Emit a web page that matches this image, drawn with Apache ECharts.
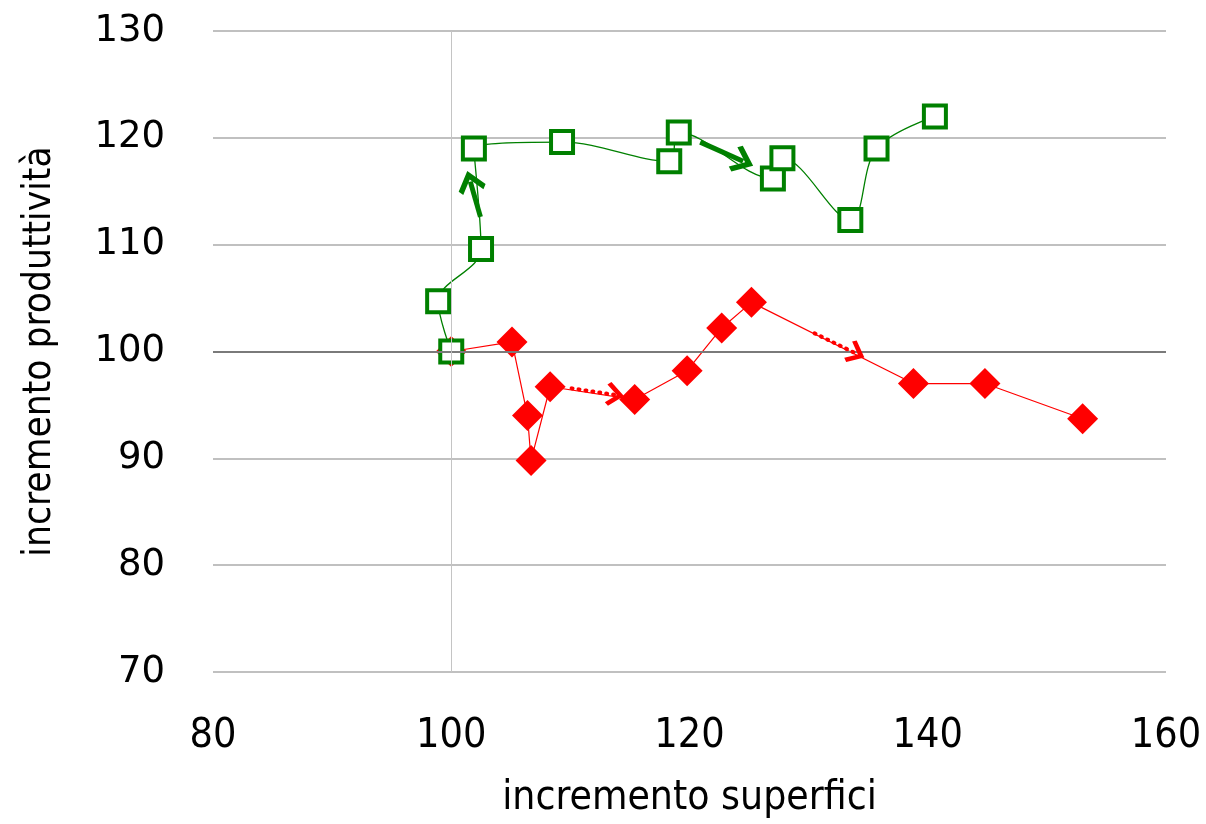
<!DOCTYPE html>
<html>
<head>
<meta charset="utf-8">
<script src="https://cdn.jsdelivr.net/npm/echarts@6/dist/echarts.min.js"></script>
<style>
  html, body { margin: 0; padding: 0; background: #fff; }
  #chart { width: 1206px; height: 824px; }
</style>
</head>
<body>
<div id="chart"></div>
<script>
// serie rossa (rombi): incremento superfici / incremento produttività
const redX = [100, 105.1, 106.4, 106.7, 108.3, 115.4, 119.8, 122.7, 125.2, 138.8, 144.8, 153.0];
const redY = [100, 100.9, 94.0, 89.8, 96.7, 95.5, 98.2, 102.2, 104.6, 97.0, 97.0, 93.7];

// serie verde (quadrati vuoti)
const greenX = [100, 98.9, 102.5, 101.9, 109.3, 118.3, 119.1, 127.0, 127.8, 133.5, 135.7, 140.6];
const greenY = [100, 104.7, 109.6, 119.0, 119.6, 117.8, 120.5, 116.2, 118.1, 112.3, 119.0, 122.0];

// frecce di direzione (coordinate nei dati)
const greenArrows = [
  [[102.45, 112.6], [101.6, 115.9]],
  [[120.9, 119.6], [124.5, 117.8]]
];
const redArrows = [
  [[110.1, 96.55], [113.75, 95.95]],
  [[130.5, 101.7], [134.0, 99.8]]
];

const xTicks = [80, 100, 120, 140, 160];
const yTicks = [70, 80, 90, 100, 110, 120, 130];

const toPairs = (xs, ys) => xs.map((x, i) => [x, ys[i]]);

// freccia aperta (a "V"), punta verso l'alto
const chevron = "path://M0,0 L12,12 L9,15 L0,6 L-9,15 L-12,12 Z";

const arrowLines = (list) =>
  list.map((a) => [{ coord: a[0] }, { coord: a[1] }]);

const narrow = "DejaVu Sans Condensed, sans-serif";

const chart = echarts.init(document.getElementById("chart"));

const option = {
  animation: false,
  grid: { left: 213, right: 40, top: 31, bottom: 152, outerBoundsMode: "none", containLabel: false },
  xAxis: {
    type: "value",
    min: xTicks[0],
    max: xTicks[xTicks.length - 1],
    interval: 20,
    name: "incremento superfici",
    nameLocation: "middle",
    nameGap: 106,
    nameTextStyle: { fontFamily: narrow, fontSize: 40.5, color: "#000" },
    axisLine: { show: false },
    axisTick: { show: false },
    splitLine: { show: false },
    axisLabel: { margin: 44, fontFamily: narrow, fontSize: 41, color: "#000" }
  },
  yAxis: {
    type: "value",
    min: yTicks[0],
    max: yTicks[yTicks.length - 1],
    interval: 10,
    name: "incremento produttività",
    nameLocation: "middle",
    nameGap: 154,
    nameTextStyle: { fontFamily: narrow, fontSize: 38.5, color: "#000" },
    axisLine: { show: false },
    axisTick: { show: false },
    splitLine: { show: true, lineStyle: { color: "#ababab", width: 1.5 } },
    axisLabel: { margin: 48, fontFamily: "DejaVu Sans", fontSize: 37, color: "#000" }
  },
  series: [
    {
      // assi di riferimento a 100
      type: "line",
      data: [],
      silent: true,
      markLine: {
        silent: true,
        symbol: "none",
        label: { show: false },
        emphasis: { disabled: true },
        data: [
          { yAxis: 100, lineStyle: { color: "#7a7a7a", width: 2, type: "solid" } },
          { xAxis: 100, lineStyle: { color: "#c4c4c4", width: 1, type: "solid" } }
        ]
      }
    },
    {
      name: "rosso",
      type: "line",
      data: toPairs(redX, redY),
      symbol: "diamond",
      symbolSize: 31,
      itemStyle: { color: "#ff0000" },
      lineStyle: { color: "#ff0000", width: 1.2 },
      markLine: {
        silent: true,
        symbol: ["none", chevron],
        symbolSize: [24, 18],
        label: { show: false },
        emphasis: { disabled: true },
        lineStyle: { color: "#ff0000", width: 4, type: [1, 6], cap: "round" },
        data: arrowLines(redArrows)
      }
    },
    {
      name: "verde",
      type: "line",
      data: toPairs(greenX, greenY),
      smooth: 0.35,
      symbol: "rect",
      symbolSize: 22,
      itemStyle: { color: "#ffffff", borderColor: "#008000", borderWidth: 4 },
      lineStyle: { color: "#008000", width: 1.3 },
      markLine: {
        silent: true,
        symbol: ["none", chevron],
        symbolSize: [28, 22],
        label: { show: false },
        emphasis: { disabled: true },
        lineStyle: { color: "#008000", width: 5, type: "solid" },
        data: arrowLines(greenArrows)
      }
    }
  ]
};

chart.setOption(option);
</script>
</body>
</html>
